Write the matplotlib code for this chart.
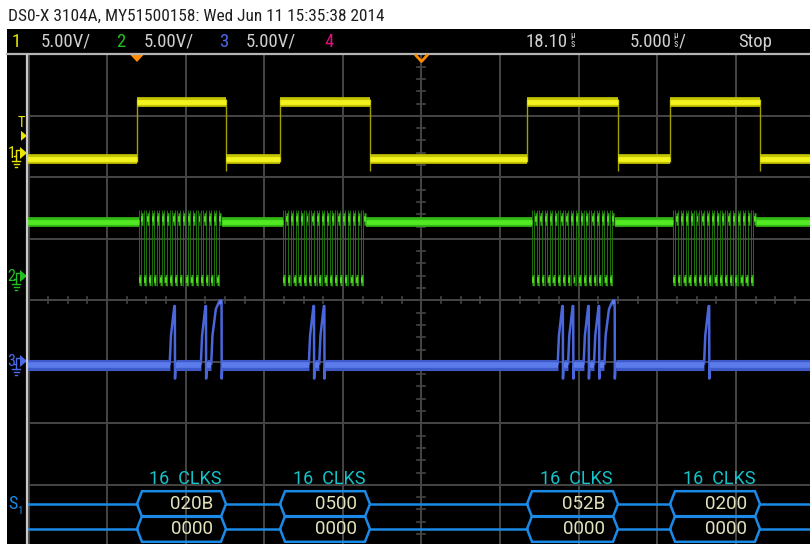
import matplotlib
matplotlib.use('Agg')
import matplotlib.pyplot as plt
from matplotlib import font_manager
from matplotlib.collections import LineCollection
from matplotlib.patches import Polygon, Rectangle

# ---------------- data ----------------
header = 'DS0-X 3104A, MY51500158: Wed Jun 11 15:35:38 2014'
channel_names = ['1', '2', '3', '4']
channel_scales = ['5.00V/', '5.00V/', '5.00V/']
delay_text = '18.10'
timebase_text = '5.000'
run_state = 'Stop'

delay_us = 18.10
time_per_div_us = 5.0
volts_per_div = 5.0

cs_rise_us = [0.00, 9.10, 24.81, 33.91]
cs_fall_us = [5.66, 14.82, 30.60, 39.63]
cs_levels_v = [-0.45, 4.15]            # low, high

clk_start_us = [0.10, 9.28, 25.11, 34.09]
clk_period_us = 0.33
clk_cycles = 16
clk_levels_v = [-0.33, 4.39]           # low, idle high

mosi_words = [0x020B, 0x0500, 0x052B, 0x0200]
mosi_levels_v = [-0.33, 4.47, 4.80]    # idle, peak, held peak
miso_words = [0x0000, 0x0000, 0x0000, 0x0000]
decode_label = '16 CLKS'
trigger_level_v = 1.4

# ---------------- fonts ----------------
names = {f.name for f in font_manager.fontManager.ttflist}
NARROW = next((n for n in ['Liberation Sans Narrow', 'DejaVu Sans Condensed',
                           'Roboto Condensed', 'Roboto', 'DejaVu Sans'] if n in names),
              'DejaVu Sans')
MONO_LIKE = 'Roboto' if 'Roboto' in names else 'DejaVu Sans'

W, H = 810, 544
fig = plt.figure(figsize=(W / 100, H / 100), dpi=100)
fig.patch.set_facecolor('white')

# background (pixel coords)
bg = fig.add_axes([0, 0, 1, 1], zorder=0)
bg.set_xlim(0, W); bg.set_ylim(H, 0); bg.axis('off')
bg.add_patch(Rectangle((7, 29), W - 7, H - 29, color='black', lw=0))

# main scope area
x0_px, y0_px = 27, 55
ax = fig.add_axes([x0_px / W, 0, (W - x0_px) / W, (H - y0_px) / H], zorder=1)
ax.set_facecolor('none')
px_per_div_x, px_per_div_y = 78.6, 61.5
cx_px, cy_px = 421.5, 300.3
tl = delay_us + (x0_px - cx_px) / px_per_div_x * time_per_div_us
tr = delay_us + (W - cx_px) / px_per_div_x * time_per_div_us
yb = (cy_px - H) / px_per_div_y
yt = (cy_px - y0_px) / px_per_div_y
ax.set_xlim(tl, tr); ax.set_ylim(yb, yt)
ax.axis('off')
us_per_px = time_per_div_us / px_per_div_x
div_per_px = 1 / px_per_div_y

# grid
grid_c = '#454545'
for k in range(-5, 6):
    ax.axvline(delay_us + k * time_per_div_us, color=grid_c, lw=1.4, zorder=1)
for k in range(-4, 5):
    ax.axhline(k, color=grid_c, lw=1.4, zorder=1)
for k in range(-20, 21):
    if k % 4:
        t = delay_us + k * time_per_div_us / 4
        ax.plot([t, t], [-3 * div_per_px, 3 * div_per_px], color=grid_c, lw=1.2, zorder=1)
for k in range(-20, 21):
    if k % 5:
        y = k / 5
        ax.plot([delay_us - 4 * us_per_px, delay_us + 4 * us_per_px], [y, y],
                color=grid_c, lw=1.2, zorder=1)

# channel offsets (div)
ch1_off, ch2_off, ch3_off = 2.395, 0.395, -0.987
v2d = lambda v, off: off + v / volts_per_div


def draw_levels(segs, outer, inner, lw_o=6.5, lw_i=3.5):
    ax.add_collection(LineCollection(segs, colors=outer, lw=lw_o, capstyle='butt', zorder=3))
    ax.add_collection(LineCollection(segs, colors=inner, lw=lw_i, capstyle='butt', zorder=4))


# ---- channel 1 (CS) ----
lo1, hi1 = v2d(cs_levels_v[0], ch1_off), v2d(cs_levels_v[1], ch1_off)
segs, edges = [], []
prev = tl
for r, f in zip(cs_rise_us, cs_fall_us):
    segs.append([(prev, lo1), (r, lo1)])
    segs.append([(r, hi1), (f, hi1)])
    edges.append([(r, lo1 - 0.05), (r, hi1 + 0.05)])
    edges.append([(f, hi1 + 0.05), (f, lo1 - 0.2)])
    prev = f
segs.append([(prev, lo1), (tr, lo1)])
ax.add_collection(LineCollection(edges, colors='#a0a000', lw=1.0, zorder=3))
draw_levels(segs, '#c4c400', '#f2f21e', lw_o=7, lw_i=3.5)

# ---- channel 2 (CLK) ----
lo2, hi2 = v2d(clk_levels_v[0], ch2_off), v2d(clk_levels_v[1], ch2_off)
segs, lows, highs, edges = [], [], [], []
prev = tl
T = clk_period_us
for s in clk_start_us:
    segs.append([(prev, hi2), (s, hi2)])
    for k in range(clk_cycles):
        a, m, b = s + k * T, s + (k + 0.5) * T, s + (k + 1) * T
        lows.append([(a + 0.02, lo2), (m - 0.02, lo2)])
        highs.append([(m + 0.02, hi2 + 0.05), (b - 0.02, hi2 + 0.05)])
        edges.append([(a, hi2 + 0.2), (a, lo2 - 0.05)])
        edges.append([(m, lo2 - 0.1), (m, hi2 + 0.2)])
    prev = s + clk_cycles * T
segs.append([(prev, hi2), (tr, hi2)])
ax.add_collection(LineCollection(edges, colors='#1f7a0c', lw=0.65, zorder=3))
draw_levels(segs, '#34b814', '#52e822', lw_o=7, lw_i=3.5)
draw_levels(lows, '#2ea812', '#4ed820', lw_o=8, lw_i=4)
draw_levels(highs, '#2ea812', '#4ed820', lw_o=9, lw_i=4)

# ---- channel 3 (MOSI) ----
base3 = v2d(mosi_levels_v[0], ch3_off)
peak3 = v2d(mosi_levels_v[1], ch3_off)
held3 = v2d(mosi_levels_v[2], ch3_off)
gaps, ramps, holds = [], [], []
for s, w in zip(clk_start_us, mosi_words):
    bits = [(w >> (15 - k)) & 1 for k in range(16)]
    k = 0
    while k < 16:
        if not bits[k]:
            k += 1
            continue
        j = k
        while j + 1 < 16 and bits[j + 1]:
            j += 1
        t0, t1 = s + k * T, s + (j + 1) * T
        if j == k:
            pts = [(t0, base3), (t0 + 0.25 * T, base3 + 0.5 * (peak3 - base3)),
                   (t0 + 0.9 * T, peak3), (t1, peak3)]
            top = peak3
        else:
            pts = [(t0, base3), (t0 + 0.25 * T, base3 + 0.5 * (peak3 - base3)),
                   (t0 + 0.9 * T, peak3 - 0.05), (t0 + 1.5 * T, held3)]
            holds.append([(t0 + 1.5 * T, held3), (t1, held3)])
            top = held3
        pts += [(t1, top), (t1 + 0.01, base3 - 0.22), (t1 + 0.05, base3)]
        ramps.append(pts)
        gaps.append((t0, t1 + 0.06))
        k = j + 1
segs = []
prev = tl
for a, b in gaps:
    segs.append([(prev, base3), (a, base3)])
    prev = b
segs.append([(prev, base3), (tr, base3)])
ax.add_collection(LineCollection(ramps, colors='#4a66d8', lw=1.8, zorder=3))
draw_levels(segs, '#3e5ac8', '#5d7cec', lw_o=8, lw_i=4)
draw_levels(holds, '#3e5ac8', '#5d7cec', lw_o=5, lw_i=3)

# ---- serial decode ----
bus_c = '#1a8ae6'
row_mid = [(cy_px - 504) / px_per_div_y, (cy_px - 529) / px_per_div_y]
half = 12.8 * div_per_px
ind = 5 * us_per_px
label_y = (cy_px - 479) / px_per_div_y
for row, words in zip(row_mid, [mosi_words, miso_words]):
    prev = tl
    for a, b, wd in zip(cs_rise_us, cs_fall_us, words):
        ax.plot([prev, a], [row, row], color=bus_c, lw=1.8, zorder=5)
        poly = Polygon([(a, row), (a + ind, row + half), (b - ind, row + half), (b, row),
                        (b - ind, row - half), (a + ind, row - half)], closed=True,
                       fill=False, edgecolor=bus_c, lw=1.8, zorder=5)
        ax.add_patch(poly)
        ax.text(b - 13 * us_per_px, row - 0.005, '%04X' % wd, color='#e2e2bc', ha='right',
                va='center', fontsize=13.5, family=MONO_LIKE, zorder=6)
        prev = b
    ax.plot([prev, tr], [row, row], color=bus_c, lw=1.8, zorder=5)
for a, b in zip(cs_rise_us, cs_fall_us):
    ax.text((a + b) / 2 + 4 * us_per_px, label_y, decode_label.replace(' ', '  '),
            color='#14c4cc', ha='center', va='center', fontsize=13, family=MONO_LIKE, zorder=6)

# ---------------- overlay (pixel coords) ----------------
ov = fig.add_axes([0, 0, 1, 1], zorder=2)
ov.set_xlim(0, W); ov.set_ylim(H, 0); ov.axis('off'); ov.set_facecolor('none')
ov.plot([7, W], [54, 54], color='#b4b4b4', lw=1.6)
ov.plot([27, 27], [55, H], color='#c8c8c8', lw=1.6)

renderer = fig.canvas.get_renderer()


def fit_text(x, y, s, width_px, **kw):
    t = ov.text(x, y, s, fontsize=10, **kw)
    w = t.get_window_extent(renderer).width
    t.set_fontsize(10 * width_px / w)
    return t


fit_text(8, 20.5, header, 373, color='#1e1e1e', family=NARROW, va='baseline')

st_y = 47
st_fs = 13.5
gray = '#d0d0d0'
colors = ['#e6e600', '#20c020', '#4a6ae8', '#e0107a']
name_x = [12, 116, 219, 324]
for nx, nm, c in zip(name_x, channel_names, colors):
    ov.text(nx, st_y, nm, color=c, fontsize=st_fs, family=NARROW, va='baseline')
for x, s in zip([41, 144, 246], channel_scales):
    ov.text(x, st_y, s, color=gray, fontsize=st_fs, family=NARROW, va='baseline')
ov.text(568, st_y, delay_text, color=gray, fontsize=st_fs, family=NARROW, va='baseline',
        ha='right')
ov.text(573, 38.5, 'µ', color=gray, fontsize=6.5, ha='center', va='baseline', family=NARROW)
ov.text(573, 47, 's', color=gray, fontsize=7, ha='center', va='baseline', family=NARROW)
ov.text(672, st_y, timebase_text, color=gray, fontsize=st_fs, family=NARROW, va='baseline',
        ha='right')
ov.text(676, 38.5, 'µ', color=gray, fontsize=6.5, ha='center', va='baseline', family=NARROW)
ov.text(676, 47, 's', color=gray, fontsize=7, ha='center', va='baseline', family=NARROW)
ov.text(679, st_y, '/', color=gray, fontsize=st_fs, va='baseline', family=NARROW)
ov.text(738, st_y, run_state, color=gray, fontsize=st_fs, family=NARROW, va='baseline')

# trigger / delay markers
orange = '#ff8c00'
tx = 27 + (0 - tl) / us_per_px
ov.add_patch(Polygon([(tx - 6.5, 55), (tx + 6.5, 55), (tx, 62)], color=orange, lw=0))
ov.plot([cx_px - 5.5, cx_px, cx_px + 5.5], [55.5, 61.5, 55.5], color=orange, lw=2)


# left channel markers
def to_px(div):
    return cy_px - div * px_per_div_y


trig_y = to_px(v2d(trigger_level_v, ch1_off))
ov.text(21, trig_y - 13, 'T', color=colors[0], fontsize=10.5, ha='center', va='center',
        family=NARROW)
ov.add_patch(Polygon([(21, trig_y - 5), (21, trig_y + 5), (27, trig_y)], color=colors[0], lw=0))

for off, nm, c in zip([ch1_off, ch2_off, ch3_off], channel_names[:3], colors[:3]):
    y = to_px(off)
    ov.text(7.5, y, nm, color=c, fontsize=11.5, va='center', family=NARROW)
    ov.plot([14, 16, 16, 20], [y + 3, y + 3, y - 3, y - 3], color=c, lw=1)
    ov.add_patch(Polygon([(20, y - 6), (20, y + 6), (27, y)], color=c, lw=0))
    ov.plot([16, 16], [y + 3, y + 8], color=c, lw=1)
    ov.plot([12, 20], [y + 8, y + 8], color=c, lw=1)
    ov.plot([13.5, 18.5], [y + 11, y + 11], color=c, lw=1)
    ov.plot([15, 17], [y + 14, y + 14], color=c, lw=1)

ov.text(8, 509, 'S', color=bus_c, fontsize=13, va='baseline', family=NARROW)
ov.text(17.5, 514, '1', color=bus_c, fontsize=8, va='baseline', family=NARROW)

fig.savefig('out.png', dpi=100, facecolor='white')
